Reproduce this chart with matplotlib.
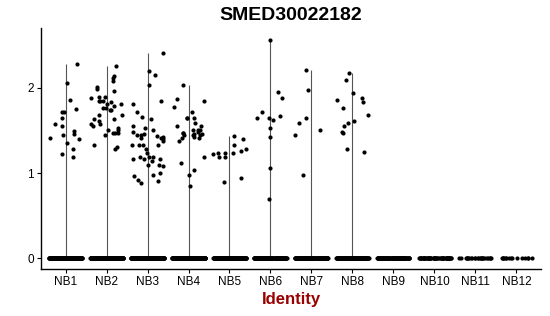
import numpy as np
import matplotlib
matplotlib.use("Agg")
import matplotlib.pyplot as plt

plt.rcParams['font.family'] = ['Liberation Sans', 'DejaVu Sans']

# Cluster names
groups = ["NB1", "NB2", "NB3", "NB4", "NB5", "NB6",
          "NB7", "NB8", "NB9", "NB10", "NB11", "NB12"]

# Expressing cells (non-zero values) per cluster
nb1 = [1.86, 1.58, 1.49, 1.46, 1.28, 1.71, 1.71, 1.44, 1.41, 2.28, 2.06,
       1.55, 1.35, 1.19, 1.64, 1.75, 1.40, 1.22]
nb2 = [2.25, 2.08, 1.98, 1.85, 1.81, 1.61, 1.47, 1.33, 1.30, 1.63, 1.81,
       1.88, 1.50, 1.53, 1.55, 1.68, 1.28, 1.74, 1.84, 1.83, 1.44, 1.50,
       1.58, 1.47, 1.74, 1.96, 1.76, 1.63, 2.11, 1.85, 1.58, 1.68, 2.14,
       2.01, 1.78, 1.89, 1.76, 1.47, 1.89]
nb3 = [2.41, 2.03, 1.55, 1.53, 1.50, 1.48, 1.33, 1.33, 1.19, 1.16, 1.09,
       0.88, 0.98, 1.71, 1.41, 1.40, 1.23, 1.28, 1.10, 1.41, 1.43, 1.44,
       2.15, 1.66, 1.63, 1.85, 1.81, 1.33, 2.20, 1.46, 1.33, 1.16, 1.19,
       1.14, 0.96, 1.19, 1.42, 1.08, 1.00, 0.91, 1.44, 1.37, 0.92, 1.16]
nb4 = [1.55, 1.65, 1.41, 1.45, 1.51, 1.47, 1.72, 1.46, 1.44, 0.85, 1.65,
       1.51, 1.85, 1.87, 1.19, 1.46, 1.51, 1.44, 1.55, 1.47, 1.59, 1.12,
       0.98, 1.04, 1.38, 1.77, 1.48, 1.41, 1.65, 2.03, 1.42]
nb5 = [1.40, 1.24, 1.23, 1.19, 1.33, 0.94, 0.89, 1.19, 1.22, 1.23, 1.26,
       1.43, 1.28]
nb6 = [1.95, 1.88, 1.72, 1.64, 1.62, 1.42, 2.56, 1.67, 1.64, 1.53, 1.06,
       0.69]
nb7 = [1.97, 1.65, 1.45, 0.98, 2.21, 1.59, 1.51]
nb8 = [2.09, 1.94, 1.76, 1.47, 2.17, 1.88, 1.86, 1.83, 1.68, 1.61, 1.59,
       1.55, 1.48, 1.28, 1.25]
nb9 = []
nb10 = []
nb11 = []
nb12 = []

# number of non-expressing cells (value 0) per cluster, estimated
zero_counts = [300, 300, 300, 280, 200, 180, 160, 150, 120, 60, 25, 15]

expressed = [nb1, nb2, nb3, nb4, nb5, nb6, nb7, nb8, nb9, nb10, nb11, nb12]

fig = plt.figure(figsize=(5.5, 3.16), dpi=100)
ax = fig.add_axes([0.0745, 0.1487, 0.909, 0.7627])

rng = np.random.default_rng(7)
for i, (vals, nz) in enumerate(zip(expressed, zero_counts)):
    pos = i + 1
    values = np.concatenate([np.zeros(nz), np.array(vals, dtype=float)])
    # violin collapses to a thin line since almost all cells are at zero
    if len(vals) > 0:
        ax.vlines(pos, 0, values.max(), color="#555555", lw=0.8, zorder=1)
    jitter = rng.uniform(-0.4, 0.4, len(values))
    ax.scatter(pos + jitter, values, s=9, color="black", linewidths=0, zorder=2)

ax.set_xlim(0.4, 12.6)
ax.set_ylim(-0.125, 2.70)
ax.set_xticks(range(1, len(groups) + 1))
ax.set_xticklabels(groups, fontsize=8.5)
ax.set_yticks([0, 1, 2])
ax.set_yticklabels(["0", "1", "2"], fontsize=8.5)
ax.tick_params(length=3, width=0.8, color="black", pad=2)

for side in ["top", "right"]:
    ax.spines[side].set_visible(False)
for side in ["left", "bottom"]:
    ax.spines[side].set_linewidth(1.0)

ax.set_title("SMED30022182", fontsize=14, fontweight="bold", pad=6)
ax.set_xlabel("Identity", fontsize=12, fontweight="bold", color="#990000",
              labelpad=3)

fig.savefig("out.png", dpi=100)
